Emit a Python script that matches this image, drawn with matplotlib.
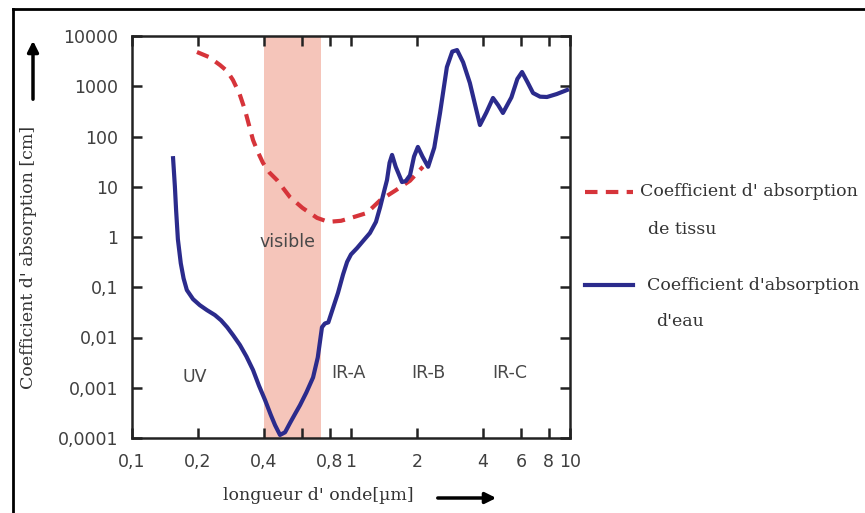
import matplotlib
matplotlib.use("Agg")
import matplotlib.pyplot as plt
from matplotlib.lines import Line2D
from matplotlib.ticker import NullLocator

# water absorption coefficient (wavelength in um, coefficient in 1/cm)
eau_x = [0.154, 0.155, 0.157, 0.159, 0.162, 0.167, 0.172, 0.178, 0.19, 0.204, 0.22,
         0.239, 0.255, 0.272, 0.29, 0.311, 0.333, 0.357, 0.38, 0.405, 0.43, 0.45,
         0.474, 0.5, 0.527, 0.555, 0.585, 0.625, 0.671, 0.705, 0.737, 0.76, 0.788,
         0.83, 0.872, 0.92, 0.96, 1.0, 1.065, 1.14, 1.22, 1.3, 1.36, 1.42, 1.46,
         1.5, 1.54, 1.6, 1.71, 1.78, 1.86, 1.94, 2.02, 2.12, 2.25, 2.4, 2.55, 2.74,
         2.9, 3.05, 3.25, 3.49, 3.7, 3.88, 4.15, 4.45, 4.7, 4.94, 5.4, 5.75,
         6.04, 6.4, 6.78, 7.3, 7.85, 8.7, 9.69]
eau_y = [37, 24, 10, 3.4, 0.9, 0.3, 0.15, 0.088, 0.058, 0.044, 0.035,
         0.028, 0.022, 0.016, 0.011, 0.0071, 0.0042, 0.00225, 0.0011, 0.00057,
         0.00029, 0.00018, 0.000115, 0.00013, 0.0002, 0.0003, 0.00045, 0.0008,
         0.0016, 0.004, 0.016, 0.019, 0.02, 0.04, 0.077, 0.18, 0.32, 0.45, 0.6,
         0.85, 1.2, 2.0, 4.0, 8.5, 13.6, 30, 43, 25, 12.4, 13, 17, 40, 62, 40,
         25, 60, 294, 2400, 4900, 5250, 3000, 1160, 400, 169, 300, 584, 420, 294,
         600, 1400, 1920, 1200, 734, 620, 611, 700, 842]

# tissue absorption coefficient
tissu_x = [0.198, 0.225, 0.252, 0.272, 0.289, 0.31, 0.328, 0.342, 0.357, 0.375,
           0.396, 0.425, 0.459, 0.526, 0.6, 0.7, 0.788, 0.9, 1.0, 1.18, 1.36,
           1.6, 1.86, 2.13]
tissu_y = [4800, 3800, 2650, 2000, 1330, 700, 337, 170, 85, 50, 30, 19, 13.6,
           6.25, 3.8, 2.4, 2.0, 2.1, 2.4, 3.0, 5.4, 8.5, 13.2, 25]

# visible band
visible = [0.4, 0.73]

xticks = [0.1, 0.2, 0.4, 0.8, 1, 2, 4, 6, 8, 10]
xlabels = ["0,1", "0,2", "0,4", "0,8", "1", "2", "4", "6", "8", "10"]
yticks = [0.0001, 0.001, 0.01, 0.1, 1, 10, 100, 1000, 10000]
ylabels = ["0,0001", "0,001", "0,01", "0,1", "1", "10", "100", "1000", "10000"]

# spectral regions: (label, x, y)
regions = [("UV", 0.194, 0.0016), ("IR-A", 0.97, 0.002),
           ("IR-B", 2.25, 0.002), ("IR-C", 5.3, 0.002)]

W, H = 865, 513
fig = plt.figure(figsize=(W / 100, H / 100), dpi=100)
fig.patch.set_facecolor("white")
ax = fig.add_axes([132 / W, 1 - 438 / H, (570 - 132) / W, (438 - 36) / H])

blue = "#2b2b8c"
red = "#d6343a"
grey = "#3f3f3f"

ax.axvspan(visible[0], visible[1], color="#f5c5ba", lw=0, zorder=0)
ax.plot(tissu_x, tissu_y, color=red, lw=3, dashes=(3, 2), zorder=2)
ax.plot(eau_x, eau_y, color=blue, lw=3, solid_joinstyle="round", zorder=3)

ax.set_xscale("log")
ax.set_yscale("log")
ax.set_xlim(0.1, 10)
ax.set_ylim(0.0001, 10000)

sans = "DejaVu Sans"
tick_font = {"family": sans, "size": 12.5, "color": grey}
ax.set_xticks(xticks, xlabels, **tick_font)
ax.set_xticks([0.6], minor=True)
ax.set_yticks(yticks, ylabels, **tick_font)
ax.yaxis.set_minor_locator(NullLocator())
ax.tick_params(which="both", direction="in", top=True, right=True,
               length=7, width=1.8, color="#222222")
ax.tick_params(axis="x", pad=11)
ax.tick_params(axis="y", pad=10)
for s in ax.spines.values():
    s.set_linewidth(1.8)
    s.set_color("#222222")

ax.text(0.515, 0.8, "visible", ha="center", va="center",
        fontfamily=sans, fontsize=12.5, color="#484848")
for lab, x, y in regions:
    ax.text(x, y, lab, ha="center", va="center",
            fontfamily=sans, fontsize=12.5, color="#484848")

serif = "DejaVu Serif"
fig.text(29 / W, 1 - 257 / H, "Coefficient d' absorption [cm]", rotation=90,
         ha="center", va="center", fontfamily=serif, fontsize=12.5, color="#333333")
fig.text(318 / W, 1 - 496 / H, "longueur d' onde[\u00b5m]", ha="center", va="center",
         fontfamily=serif, fontsize=12.5, color="#333333")

# axis arrows
fig.add_artist(plt.Annotation("", xy=(33 / W, 1 - 38 / H), xytext=(33 / W, 1 - 102 / H),
                              xycoords="figure fraction",
                              arrowprops=dict(arrowstyle="-|>", lw=2.5, color="black",
                                              mutation_scale=16)))
fig.add_artist(plt.Annotation("", xy=(499 / W, 1 - 498 / H), xytext=(435 / W, 1 - 498 / H),
                              xycoords="figure fraction",
                              arrowprops=dict(arrowstyle="-|>", lw=2.5, color="black",
                                              mutation_scale=16)))

# legend drawn by hand
fig.add_artist(Line2D([585 / W, 633 / W], [1 - 192 / H, 1 - 192 / H], color=red,
                      lw=3, dashes=(3, 2)))
fig.add_artist(Line2D([585 / W, 633 / W], [1 - 285 / H, 1 - 285 / H], color=blue, lw=3))
leg_font = dict(fontfamily=serif, fontsize=12.5, color="#333333", va="center", ha="left")
fig.text(640 / W, 1 - 192 / H, "Coefficient d' absorption", **leg_font)
fig.text(648 / W, 1 - 230 / H, "de tissu", **leg_font)
fig.text(647 / W, 1 - 285 / H, "Coefficient d'absorption", **leg_font)
fig.text(656 / W, 1 - 322 / H, "d'eau", **leg_font)

# outer frame (top and left edges only)
fig.add_artist(Line2D([13 / W, 1.0], [1 - 8.5 / H, 1 - 8.5 / H], color="black", lw=2))
fig.add_artist(Line2D([13 / W, 13 / W], [0.0, 1 - 8.5 / H], color="black", lw=2))

fig.savefig("out.png", dpi=100)
